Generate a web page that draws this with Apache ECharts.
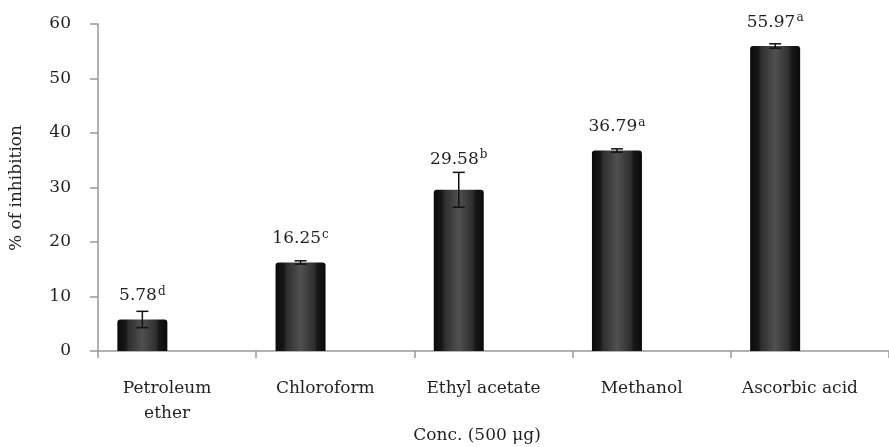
<!DOCTYPE html>
<html>
<head>
<meta charset="utf-8">
<script src="https://cdn.jsdelivr.net/npm/echarts@6/dist/echarts.min.js"></script>
<style>html,body{margin:0;padding:0;background:#fff}#c{width:889px;height:447px}</style>
</head>
<body>
<div id="c"></div>
<script>
const categories = ['Petroleum\nether', 'Chloroform', 'Ethyl acetate', 'Methanol', 'Ascorbic acid'];
const values = [5.78, 16.25, 29.58, 36.79, 55.97];
const errors = [1.5, 0.3, 3.2, 0.3, 0.4];
const letters = ['d', 'c', 'b', 'a', 'a'];
const yTicks = [0, 10, 20, 30, 40, 50, 60];

const FONT = 'DejaVu Serif';
const FS = 17;
const BAR_W = 50, GAP = 19.5;
const chart = echarts.init(document.getElementById('c'));

const barFill = new echarts.graphic.LinearGradient(0, 0, 1, 0, [
  {offset: 0, color: '#0a0a0a'},
  {offset: 0.17, color: '#181818'},
  {offset: 0.22, color: '#2e2e2e'},
  {offset: 0.5, color: '#505050'},
  {offset: 0.78, color: '#2e2e2e'},
  {offset: 0.83, color: '#181818'},
  {offset: 1, color: '#0a0a0a'}
]);

const barData = values.map((v, i) => ({
  value: v,
  label: {distance: errors[i] > 2 ? 22 : 15}
}));

chart.setOption({
  animation: false,
  grid: {left: 98, top: 24, width: 797, height: 327, containLabel: false},
  xAxis: {
    type: 'category',
    data: categories,
    axisLine: {lineStyle: {color: '#999', width: 1.5}},
    axisTick: {show: true, length: 7, lineStyle: {color: '#999', width: 1.5}},
    axisLabel: {fontFamily: FONT, fontSize: FS, color: '#231f20', margin: 25, lineHeight: 25, padding: [0, 20, 0, 0]}
  },
  yAxis: {
    type: 'value',
    min: yTicks[0], max: yTicks[yTicks.length - 1], interval: 10,
    splitLine: {show: false},
    axisLine: {show: true, lineStyle: {color: '#999', width: 1.5}},
    axisTick: {show: true, length: 8, lineStyle: {color: '#999', width: 1.5}},
    axisLabel: {fontFamily: FONT, fontSize: FS, color: '#231f20', margin: 27}
  },
  graphic: [
    {type: 'text', x: 17, y: 188, rotation: Math.PI / 2,
      style: {text: '% of inhibition', font: FS + 'px "' + FONT + '"', fill: '#231f20', align: 'center', verticalAlign: 'middle'}},
    {type: 'text', x: 477, y: 436,
      style: {text: 'Conc. (500 μg)', font: FS + 'px "' + FONT + '"', fill: '#231f20', align: 'center', verticalAlign: 'middle'}}
  ],
  series: [
    {
      type: 'bar',
      data: barData,
      barWidth: BAR_W,
      barGap: (GAP / BAR_W * 100) + '%',
      itemStyle: {color: barFill, borderRadius: [3, 3, 0, 0]},
      label: {
        show: true,
        position: 'top',
        formatter: p => '{v|' + values[p.dataIndex].toFixed(2) + '}{s|' + letters[p.dataIndex] + '}',
        rich: {
          v: {fontFamily: FONT, fontSize: FS, color: '#231f20', lineHeight: 19, verticalAlign: 'bottom'},
          s: {fontFamily: FONT, fontSize: 12, color: '#231f20', lineHeight: 19, verticalAlign: 'top', padding: [0, 0, 7, 1]}
        }
      },
      z: 2
    },
    {
      type: 'bar',
      data: values.map(() => null),
      barWidth: BAR_W,
      silent: true
    },
    {
      type: 'custom',
      z: 5,
      data: values.map((v, i) => [i, v, errors[i]]),
      renderItem: function (params, api) {
        const i = api.value(0);
        const top = api.coord([i, api.value(1) + api.value(2)]);
        const bot = api.coord([i, api.value(1) - api.value(2)]);
        const x = top[0] - (BAR_W + GAP) / 2;
        const cap = 6;
        const st = {stroke: '#111', lineWidth: 1.5};
        return {type: 'group', children: [
          {type: 'line', shape: {x1: x, y1: top[1], x2: x, y2: bot[1]}, style: st},
          {type: 'line', shape: {x1: x - cap, y1: top[1], x2: x + cap, y2: top[1]}, style: st},
          {type: 'line', shape: {x1: x - cap, y1: bot[1], x2: x + cap, y2: bot[1]}, style: st}
        ]};
      }
    }
  ]
});
</script>
</body>
</html>
